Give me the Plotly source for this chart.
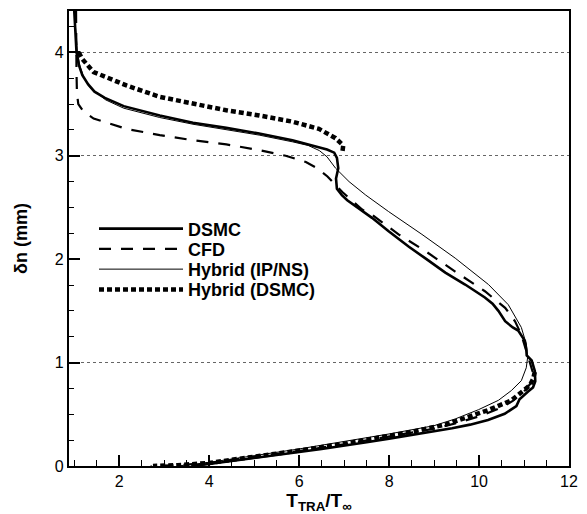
import plotly.graph_objects as go

# ---------------- data ----------------
dsmc_x = [1.00, 1.02, 1.05, 1.10, 1.18, 1.31, 1.45, 1.68, 2.10, 2.90, 3.64, 4.38, 5.11, 5.85, 6.29, 6.62,
          6.78, 6.84, 6.87, 6.82, 6.84, 6.95, 7.07, 7.33, 7.62, 7.99, 8.44, 8.80, 9.25, 9.69, 10.13, 10.30,
          10.43, 10.58, 10.75, 10.87, 11.02, 11.05, 11.06, 11.17, 11.24, 11.25, 11.20, 11.09, 10.90, 10.83,
          10.57, 10.20, 9.80, 9.40, 9.00, 8.50, 8.00, 7.50, 7.00, 6.50, 6.00, 5.50, 5.00, 4.50, 4.00, 3.60]
dsmc_y = [4.40, 4.20, 4.00, 3.88, 3.78, 3.69, 3.62, 3.56, 3.48, 3.39, 3.32, 3.27, 3.215, 3.15, 3.10, 3.06,
          3.03, 2.98, 2.88, 2.78, 2.68, 2.62, 2.57, 2.49, 2.40, 2.27, 2.12, 2.01, 1.87, 1.755, 1.63, 1.57,
          1.50, 1.40, 1.34, 1.31, 1.21, 1.13, 1.07, 1.02, 0.92, 0.82, 0.76, 0.72, 0.645, 0.58,
          0.505, 0.445, 0.40, 0.365, 0.335, 0.30, 0.265, 0.23, 0.195, 0.165, 0.135, 0.105, 0.075, 0.045, 0.02, 0.0]

cfd_x = [1.04, 1.04, 1.045, 1.05, 1.06, 1.09, 1.20, 1.43, 2.16, 2.90, 3.64, 4.38, 5.11, 5.70, 6.15, 6.40,
         6.63, 6.96, 7.40, 7.62, 8.21, 8.80, 9.47, 10.13, 10.58, 10.80, 10.94, 11.03, 11.12, 11.20, 11.15,
         11.00, 10.75, 10.50, 10.00, 9.50, 9.00, 8.00, 7.00, 6.00, 5.00, 4.00, 3.30, 2.70]
cfd_y = [4.40, 4.20, 4.00, 3.80, 3.60, 3.50, 3.43, 3.36, 3.26, 3.20, 3.15, 3.11, 3.055, 3.00, 2.94, 2.88,
         2.80, 2.65, 2.48, 2.43, 2.24, 2.08, 1.88, 1.69, 1.53, 1.40, 1.27, 1.145, 1.02, 0.90, 0.80,
         0.72, 0.63, 0.565, 0.48, 0.415, 0.36, 0.285, 0.21, 0.145, 0.085, 0.03, 0.008, 0.0]

ipns_x = [1.00, 1.03, 1.07, 1.13, 1.22, 1.35, 1.70, 2.10, 2.90, 3.64, 4.38, 5.11, 5.85, 6.20, 6.45, 6.62,
          6.81, 7.11, 7.48, 7.99, 8.73, 9.47, 10.21, 10.65, 10.94, 11.05, 11.08, 11.05, 10.94, 10.72, 10.43,
          9.99, 9.47, 9.00, 8.00, 7.00, 6.00, 5.00, 4.00, 3.30]
ipns_y = [4.40, 4.20, 4.00, 3.86, 3.75, 3.66, 3.54, 3.46, 3.37, 3.305, 3.255, 3.20, 3.135, 3.10, 3.05, 2.99,
          2.88, 2.75, 2.62, 2.46, 2.24, 2.01, 1.755, 1.56, 1.34, 1.18, 1.05, 0.95, 0.825, 0.73, 0.635,
          0.545, 0.455, 0.39, 0.31, 0.235, 0.165, 0.10, 0.035, 0.0]

hyb_x = [1.10, 1.17, 1.43, 2.16, 2.90, 3.64, 4.38, 5.11, 5.85, 6.44, 6.81, 6.98, 6.96, None,
         11.24, 11.20, 11.13, 10.94, 10.72, 10.20, 9.69, 9.25, 8.50, 8.00, 7.00, 6.00, 5.00, 4.00, 3.30, 2.75]
hyb_y = [4.00, 3.94, 3.81, 3.68, 3.57, 3.50, 3.44, 3.39, 3.33, 3.26, 3.17, 3.10, 3.03, None,
         0.91, 0.84, 0.78, 0.71, 0.635, 0.54, 0.46, 0.40, 0.33, 0.29, 0.215, 0.15, 0.09, 0.03, 0.008, 0.0]

grid_levels = [1, 3, 4]
x_range = [0.883, 12.0]
y_range = [0.0, 4.4]
x_ticks = [2, 4, 6, 8, 10, 12]
y_ticks = [0, 1, 2, 3, 4]

series = [
    ("DSMC", dsmc_x, dsmc_y, dict(color="black", width=2.6, dash="solid")),
    ("CFD", cfd_x, cfd_y, dict(color="black", width=2.2, dash="12px,10px")),
    ("Hybrid (IP/NS)", ipns_x, ipns_y, dict(color="black", width=1.0, dash="solid")),
    ("Hybrid (DSMC)", hyb_x, hyb_y, dict(color="black", width=4.5, dash="5px,3px")),
]

FONT = "Liberation Sans, Arial, Helvetica, sans-serif"

# legend layout: one single-entry legend per series, stacked with tight spacing
LEG_TOP = 0.521      # paper y of first legend row centre
LEG_STEP = 0.0445    # paper spacing between rows (~20 px)
LEG_X = 0.05

fig = go.Figure()
layout_legends = {}
for i, (name, xs, ys, ln) in enumerate(series):
    key = "legend" if i == 0 else "legend%d" % (i + 1)
    fig.add_trace(go.Scatter(x=xs, y=ys, mode="lines", name="<b>" + name + "</b>", line=ln,
                             connectgaps=False, legend=key))
    layout_legends[key] = dict(x=LEG_X, y=LEG_TOP - i * LEG_STEP, xanchor="left", yanchor="middle",
                               bgcolor="rgba(255,255,255,0)", borderwidth=0,
                               font=dict(family=FONT, size=18, color="black"),
                               itemwidth=84, tracegroupgap=0)

# invisible trace to carry the dotted grid axis
fig.add_trace(go.Scatter(x=[None], y=[None], yaxis="y2", showlegend=False, hoverinfo="skip"))

fig.update_layout(
    width=587, height=514,
    margin=dict(l=69, r=16, t=9, b=48),
    paper_bgcolor="white", plot_bgcolor="white",
    font=dict(family=FONT, color="black", size=15),
    showlegend=True,
    xaxis=dict(range=x_range, tickvals=x_ticks, ticks="inside", ticklen=11, tickwidth=1.5,
               tickcolor="black", showgrid=False, zeroline=False,
               showline=True, linecolor="black", linewidth=2.2, mirror=True,
               minor=dict(dtick=0.5, tick0=0, ticks="inside", ticklen=6, tickwidth=1, tickcolor="black",
                          showgrid=False),
               tickfont=dict(size=16),
               title=dict(text="<b>T<sub>TRA</sub>/T<sub>∞</sub></b>", font=dict(size=19), standoff=0)),
    yaxis=dict(range=y_range, tickvals=y_ticks, ticks="inside", ticklen=11, tickwidth=1.5,
               tickcolor="black", showgrid=False, zeroline=False,
               showline=True, linecolor="black", linewidth=2.2, mirror=True,
               minor=dict(dtick=0.25, tick0=0, ticks="inside", ticklen=5, tickwidth=1, tickcolor="black",
                          showgrid=False),
               tickfont=dict(size=16),
               title=dict(text="<b>δn (mm)</b>", font=dict(size=18), standoff=22)),
    yaxis2=dict(range=y_range, overlaying="y", tickvals=grid_levels, showticklabels=False, ticks="",
                showgrid=True, gridcolor="#666666", gridwidth=1, griddash="dot", zeroline=False,
                showline=False),
    **layout_legends,
)

fig.write_html("out.html")
